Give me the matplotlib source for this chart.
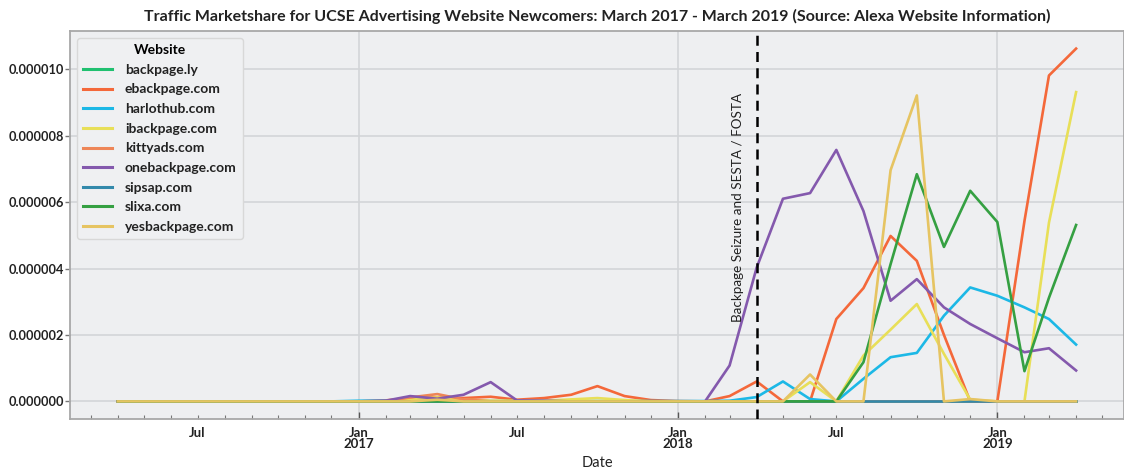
import matplotlib
matplotlib.use('Agg')
import matplotlib.pyplot as plt
import matplotlib.dates as mdates
from matplotlib.ticker import FuncFormatter
import pandas as pd
import numpy as np

plt.rcParams['font.family'] = ['Lato', 'DejaVu Sans']

# ---------------- data (values in millionths of total traffic share) ----------------
months = pd.date_range('2016-04-01', '2019-04-01', freq='MS')
seizure_date = pd.Timestamp('2018-04-01')
scale = 1e-6

websites = ['backpage.ly', 'ebackpage.com', 'harlothub.com', 'ibackpage.com', 'kittyads.com',
            'onebackpage.com', 'sipsap.com', 'slixa.com', 'yesbackpage.com']

backpage_ly = [0, 0, 0, 0, 0, 0, 0, 0, 0, 0, 0, 0, 0, 0, 0, 0, 0, 0, 0,
               0, 0, 0, 0, 0, 0, 0, 0, 0, 0, 0, 0, 0, 0, 0, 0, 0, 0]
ebackpage = [0, 0, 0, 0, 0, 0, 0, 0, 0, 0, 0.03, 0.10, 0.12, 0.10, 0.14, 0.05, 0.10, 0.20, 0.46,
             0.16, 0.04, 0.01, 0.0, 0.16, 0.60, 0.0, 0.0, 2.48, 3.41, 4.98, 4.23, 2.0, 0.0, 0.0, 5.43, 9.81, 10.62]
harlothub = [0, 0, 0, 0, 0, 0, 0, 0, 0, 0.02, 0.02, 0.01, 0.01, 0.01, 0.01, 0.01, 0.01, 0.01, 0.01,
             0.01, 0.01, 0.01, 0.01, 0.02, 0.13, 0.60, 0.07, 0.0, 0.68, 1.33, 1.46, 2.58, 3.43, 3.18, 2.83, 2.48, 1.71]
ibackpage = [0, 0, 0, 0, 0, 0, 0, 0, 0, 0, 0, 0.05, 0.12, 0.05, 0.02, 0.02, 0.02, 0.06, 0.10,
             0.04, 0, 0, 0, 0, 0, 0, 0.58, 0, 1.38, 2.16, 2.93, 1.43, 0.05, 0, 0, 5.38, 9.31]
kittyads = [0, 0, 0, 0, 0, 0, 0, 0, 0, 0, 0, 0.12, 0.22, 0.06, 0, 0, 0, 0, 0,
            0, 0, 0, 0, 0, 0, 0, 0, 0, 0, 0, 0, 0, 0, 0, 0, 0, 0]
onebackpage = [0, 0, 0, 0, 0, 0, 0, 0, 0, 0, 0.02, 0.16, 0.08, 0.20, 0.58, 0.03, 0.02, 0, 0,
               0, 0, 0, 0, 1.08, 4.03, 6.10, 6.27, 7.57, 5.73, 3.03, 3.68, 2.83, 2.33, 1.90, 1.48, 1.60, 0.93]
sipsap = [0, 0, 0, 0, 0, 0, 0, 0, 0, 0, 0, 0, 0, 0, 0, 0, 0, 0, 0,
          0, 0, 0, 0, 0, 0, 0, 0, 0, 0, 0, 0, 0, 0, 0, 0, 0, 0]
slixa = [0, 0, 0, 0, 0, 0, 0, 0, 0, 0, 0, 0, 0, 0, 0, 0, 0, 0, 0,
         0, 0, 0, 0, 0, 0, 0, 0, 0, 1.18, 4.13, 6.84, 4.65, 6.34, 5.40, 0.91, 3.12, 5.31]
yesbackpage = [0, 0, 0, 0, 0, 0, 0, 0, 0, 0, 0, 0, 0.05, 0, 0, 0, 0, 0, 0,
               0, 0, 0, 0, 0, 0, 0, 0.81, 0, 0, 6.96, 9.21, 0, 0.07, 0, 0, 0, 0]

series = [backpage_ly, ebackpage, harlothub, ibackpage, kittyads,
          onebackpage, sipsap, slixa, yesbackpage]
colors = ['#20c070', '#f4683a', '#1cb8e6', '#e8df58', '#ee8658',
          '#8459ad', '#3389ab', '#35a042', '#e6c462']

title = 'Traffic Marketshare for UCSE Advertising Website Newcomers: March 2017 - March 2019 (Source: Alexa Website Information)'

# ---------------- figure ----------------
fig = plt.figure(figsize=(11.24, 4.70), dpi=100)
ax = fig.add_axes([70 / 1124, 51 / 470, 1054 / 1124, 388 / 470])
ax.set_facecolor('#eeeff1')

for name, vals, c in zip(websites, series, colors):
    ax.plot(months, np.array(vals) * scale, color=c, lw=1.9, label=name, zorder=3)

ax.axvline(seizure_date, color='black', lw=1.8, ls=(0, (4, 2.5)), zorder=4)
ax.text(seizure_date - pd.Timedelta(days=14), 2.4e-6, 'Backpage Seizure and SESTA / FOSTA',
        rotation=90, ha='right', va='bottom', fontsize=9.7, color='#222222', zorder=5)

# limits
span = months[-1] - months[0]
ax.set_xlim(months[0] - span * 0.05, months[-1] + span * 0.05)
ax.set_ylim(-0.53e-6, 11.15e-6)

# x axis ticks
ax.xaxis.set_major_locator(mdates.YearLocator(month=1))
ax.xaxis.set_minor_locator(mdates.MonthLocator())
ax.xaxis.set_major_formatter(FuncFormatter(lambda v, p: mdates.num2date(v).strftime('%b\n%Y')))
ax.xaxis.set_minor_formatter(FuncFormatter(
    lambda v, p: 'Jul' if mdates.num2date(v).month == 7 else ''))
ax.tick_params(axis='x', which='major', direction='in', length=5, width=1, colors='#555555',
               labelcolor='#222222', labelsize=9.5, pad=6)
ax.tick_params(axis='x', which='minor', direction='in', length=3, width=0.8, colors='#777777',
               labelcolor='#222222', labelsize=9.5, pad=6)
for lab in ax.get_xticklabels(which='both'):
    lab.set_fontweight('bold')
    lab.set_linespacing(0.9)

# y axis
ax.set_yticks([0, 2e-6, 4e-6, 6e-6, 8e-6, 10e-6])
ax.yaxis.set_major_formatter(FuncFormatter(lambda v, p: '%.6f' % v))
ax.tick_params(axis='y', direction='out', length=3.5, width=1, colors='#777777',
               labelcolor='#222222', labelsize=9.2, pad=0.8)
for lab in ax.get_yticklabels():
    lab.set_fontweight('bold')

ax.grid(True, which='major', color='#d3d5d8', lw=1.2, zorder=0)
ax.set_axisbelow(True)
for s in ax.spines.values():
    s.set_color('#a8a8a8')
    s.set_linewidth(1.3)

ax.set_xlabel('Date', fontsize=10.5, color='#222222', labelpad=4)
ax.set_title(title, fontsize=11.5, fontweight='bold', color='#222222', pad=7)

leg = ax.legend(title='Website', loc='upper left', fontsize=10, title_fontsize=10,
                frameon=True, fancybox=True, facecolor='#eff0f2', edgecolor='#d8d8d8',
                framealpha=1.0, handlelength=2.1, handletextpad=0.9, labelspacing=0.55,
                borderpad=0.45, borderaxespad=0.5, bbox_to_anchor=(0.0, 1.0))
leg.get_title().set_fontweight('bold')
for t in leg.get_texts():
    t.set_fontweight('bold')
    t.set_color('#222222')
for h in leg.get_lines():
    h.set_linewidth(2.2)

fig.savefig('out.png', dpi=100)
